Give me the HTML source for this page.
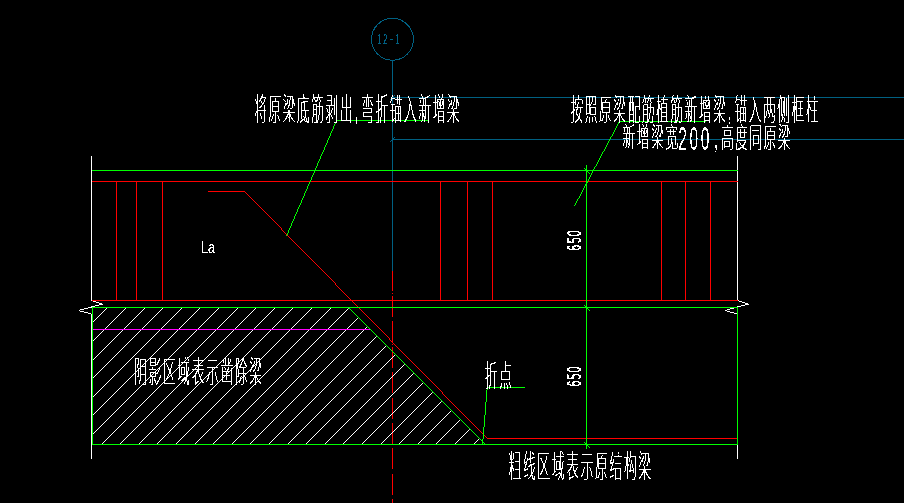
<!DOCTYPE html>
<html lang="zh-CN">
<head>
<meta charset="utf-8">
<title>梁加固节点详图</title>
<style>
html,body{margin:0;padding:0;background:#000;}
body{width:904px;height:503px;overflow:hidden;}
svg{display:block;}
text{font-family:"Liberation Sans","Noto Sans CJK SC",sans-serif;}
</style>
</head>
<body>
<svg width="904" height="503" viewBox="0 0 904 503">
<defs>
<filter id="crispA" x="0" y="0" width="904" height="503" filterUnits="userSpaceOnUse" color-interpolation-filters="sRGB"><feComponentTransfer><feFuncA type="discrete" tableValues="0 1 1 1"/></feComponentTransfer></filter>
<filter id="crispB" x="0" y="0" width="904" height="503" filterUnits="userSpaceOnUse" color-interpolation-filters="sRGB"><feComponentTransfer><feFuncA type="discrete" tableValues="0 0 1 1 1"/></feComponentTransfer></filter>
<filter id="crispC" x="0" y="0" width="904" height="503" filterUnits="userSpaceOnUse" color-interpolation-filters="sRGB"><feComponentTransfer><feFuncA type="discrete" tableValues="0 0 0 1 1"/></feComponentTransfer></filter>
</defs>
<rect width="904" height="503" fill="#000"/>
<g shape-rendering="crispEdges" stroke-width="1" fill="none">
<line x1="392.5" y1="271" x2="392.5" y2="291" stroke="#ff0000"/>
<line x1="392.5" y1="293" x2="392.5" y2="294" stroke="#ff0000"/>
<line x1="392.5" y1="296" x2="392.5" y2="317" stroke="#ff0000"/>
<line x1="392.5" y1="321" x2="392.5" y2="342" stroke="#ff0000"/>
<line x1="392.5" y1="344" x2="392.5" y2="345" stroke="#ff0000"/>
<line x1="392.5" y1="347" x2="392.5" y2="368" stroke="#ff0000"/>
<line x1="392.5" y1="372" x2="392.5" y2="393" stroke="#ff0000"/>
<line x1="392.5" y1="398" x2="392.5" y2="419" stroke="#ff0000"/>
<line x1="392.5" y1="423" x2="392.5" y2="444" stroke="#ff0000"/>
<line x1="392.5" y1="448" x2="392.5" y2="469" stroke="#ff0000"/>
<line x1="392.5" y1="474" x2="392.5" y2="495" stroke="#ff0000"/>
<line x1="392.5" y1="499" x2="392.5" y2="503" stroke="#ff0000"/>
<clipPath id="hc"><polygon points="93,308 348.2,308 484.2,444 93,444"/></clipPath>
<g clip-path="url(#hc)">
<polygon points="-53.50,450.00 -52.50,450.00 97.50,300.00 96.50,300.00" fill="#ffffff" stroke="none"/>
<polygon points="-35.50,450.00 -34.50,450.00 115.50,300.00 114.50,300.00" fill="#ffffff" stroke="none"/>
<polygon points="-16.50,450.00 -15.50,450.00 134.50,300.00 133.50,300.00" fill="#ffffff" stroke="none"/>
<polygon points="2.50,450.00 3.50,450.00 153.50,300.00 152.50,300.00" fill="#ffffff" stroke="none"/>
<polygon points="20.50,450.00 21.50,450.00 171.50,300.00 170.50,300.00" fill="#ffffff" stroke="none"/>
<polygon points="39.50,450.00 40.50,450.00 190.50,300.00 189.50,300.00" fill="#ffffff" stroke="none"/>
<polygon points="57.50,450.00 58.50,450.00 208.50,300.00 207.50,300.00" fill="#ffffff" stroke="none"/>
<polygon points="76.50,450.00 77.50,450.00 227.50,300.00 226.50,300.00" fill="#ffffff" stroke="none"/>
<polygon points="95.50,450.00 96.50,450.00 246.50,300.00 245.50,300.00" fill="#ffffff" stroke="none"/>
<polygon points="113.50,450.00 114.50,450.00 264.50,300.00 263.50,300.00" fill="#ffffff" stroke="none"/>
<polygon points="132.50,450.00 133.50,450.00 283.50,300.00 282.50,300.00" fill="#ffffff" stroke="none"/>
<polygon points="150.50,450.00 151.50,450.00 301.50,300.00 300.50,300.00" fill="#ffffff" stroke="none"/>
<polygon points="169.50,450.00 170.50,450.00 320.50,300.00 319.50,300.00" fill="#ffffff" stroke="none"/>
<polygon points="188.50,450.00 189.50,450.00 339.50,300.00 338.50,300.00" fill="#ffffff" stroke="none"/>
<polygon points="206.50,450.00 207.50,450.00 357.50,300.00 356.50,300.00" fill="#ffffff" stroke="none"/>
<polygon points="225.50,450.00 226.50,450.00 376.50,300.00 375.50,300.00" fill="#ffffff" stroke="none"/>
<polygon points="243.50,450.00 244.50,450.00 394.50,300.00 393.50,300.00" fill="#ffffff" stroke="none"/>
<polygon points="262.50,450.00 263.50,450.00 413.50,300.00 412.50,300.00" fill="#ffffff" stroke="none"/>
<polygon points="281.50,450.00 282.50,450.00 432.50,300.00 431.50,300.00" fill="#ffffff" stroke="none"/>
<polygon points="299.50,450.00 300.50,450.00 450.50,300.00 449.50,300.00" fill="#ffffff" stroke="none"/>
<polygon points="318.50,450.00 319.50,450.00 469.50,300.00 468.50,300.00" fill="#ffffff" stroke="none"/>
<polygon points="336.50,450.00 337.50,450.00 487.50,300.00 486.50,300.00" fill="#ffffff" stroke="none"/>
<polygon points="355.50,450.00 356.50,450.00 506.50,300.00 505.50,300.00" fill="#ffffff" stroke="none"/>
<polygon points="374.50,450.00 375.50,450.00 525.50,300.00 524.50,300.00" fill="#ffffff" stroke="none"/>
<polygon points="392.50,450.00 393.50,450.00 543.50,300.00 542.50,300.00" fill="#ffffff" stroke="none"/>
<polygon points="411.50,450.00 412.50,450.00 562.50,300.00 561.50,300.00" fill="#ffffff" stroke="none"/>
<polygon points="429.50,450.00 430.50,450.00 580.50,300.00 579.50,300.00" fill="#ffffff" stroke="none"/>
<polygon points="448.50,450.00 449.50,450.00 599.50,300.00 598.50,300.00" fill="#ffffff" stroke="none"/>
<polygon points="467.50,450.00 468.50,450.00 618.50,300.00 617.50,300.00" fill="#ffffff" stroke="none"/>
<polygon points="485.50,450.00 486.50,450.00 636.50,300.00 635.50,300.00" fill="#ffffff" stroke="none"/>
</g>
<circle cx="392.45" cy="39.3" r="20.95" stroke="#006082" fill="none"/>
<line x1="392.5" y1="60" x2="392.5" y2="271" stroke="#006082"/>
<line x1="392" y1="97.5" x2="904" y2="97.5" stroke="#006082"/>
<line x1="392" y1="139.5" x2="904" y2="139.5" stroke="#006082"/>
<polygon points="389.50,100.00 390.50,100.00 395.50,95.00 394.50,95.00" fill="#006082" stroke="none"/>
<polygon points="389.50,142.00 390.50,142.00 395.50,137.00 394.50,137.00" fill="#006082" stroke="none"/>
<line x1="91.5" y1="156" x2="91.5" y2="301" stroke="#ffffff"/>
<line x1="91.5" y1="314" x2="91.5" y2="459" stroke="#ffffff"/>
<line x1="737.5" y1="156" x2="737.5" y2="301" stroke="#ffffff"/>
<line x1="737.5" y1="314" x2="737.5" y2="459" stroke="#ffffff"/>
<polygon points="91.50,300.00 91.50,301.00 102.50,304.50 102.50,303.50" fill="#ffffff" stroke="none"/>
<polygon points="102.50,303.50 102.50,304.50 91.50,307.50 91.50,306.50" fill="#ffffff" stroke="none"/>
<polygon points="91.50,306.50 91.50,307.50 78.50,311.00 78.50,310.00" fill="#ffffff" stroke="none"/>
<polygon points="78.50,310.00 78.50,311.00 91.50,314.50 91.50,313.50" fill="#ffffff" stroke="none"/>
<polygon points="737.50,300.00 737.50,301.00 748.50,304.50 748.50,303.50" fill="#ffffff" stroke="none"/>
<polygon points="748.50,303.50 748.50,304.50 737.50,307.50 737.50,306.50" fill="#ffffff" stroke="none"/>
<polygon points="737.50,306.50 737.50,307.50 725.00,311.00 725.00,310.00" fill="#ffffff" stroke="none"/>
<polygon points="725.00,310.00 725.00,311.00 737.50,314.50 737.50,313.50" fill="#ffffff" stroke="none"/>
<line x1="92" y1="181.5" x2="738" y2="181.5" stroke="#ff0000"/>
<line x1="92" y1="300.5" x2="738" y2="300.5" stroke="#ff0000"/>
<line x1="116.5" y1="181" x2="116.5" y2="301" stroke="#ff0000"/>
<line x1="136.5" y1="181" x2="136.5" y2="301" stroke="#ff0000"/>
<line x1="162.5" y1="181" x2="162.5" y2="301" stroke="#ff0000"/>
<line x1="440.5" y1="181" x2="440.5" y2="301" stroke="#ff0000"/>
<line x1="467.5" y1="181" x2="467.5" y2="301" stroke="#ff0000"/>
<line x1="492.5" y1="181" x2="492.5" y2="301" stroke="#ff0000"/>
<line x1="661.5" y1="181" x2="661.5" y2="301" stroke="#ff0000"/>
<line x1="685.5" y1="181" x2="685.5" y2="301" stroke="#ff0000"/>
<line x1="710.5" y1="181" x2="710.5" y2="301" stroke="#ff0000"/>
<polygon points="208.00,191.00 208.00,192.00 244.70,192.00 244.70,191.00" fill="#ff0000" stroke="none"/>
<polygon points="244.20,191.50 245.20,191.50 487.70,438.50 486.70,438.50" fill="#ff0000" stroke="none"/>
<polygon points="487.20,438.00 487.20,439.00 738.00,439.00 738.00,438.00" fill="#ff0000" stroke="none"/>
<line x1="92" y1="329.5" x2="371" y2="329.5" stroke="#ff00ff"/>
<line x1="92" y1="170.5" x2="738" y2="170.5" stroke="#00ff00"/>
<line x1="92" y1="307.5" x2="738" y2="307.5" stroke="#00ff00"/>
<line x1="92" y1="444.5" x2="738" y2="444.5" stroke="#00ff00"/>
<line x1="92.5" y1="307" x2="92.5" y2="445" stroke="#00ff00"/>
<line x1="737.5" y1="307" x2="737.5" y2="445" stroke="#00ff00"/>
<polygon points="348.20,307.50 349.20,307.50 486.20,444.50 485.20,444.50" fill="#00ff00" stroke="none"/>
<line x1="586.5" y1="165" x2="586.5" y2="449" stroke="#00ff00"/>
<polygon points="583.50,168.00 584.50,168.00 590.50,174.00 589.50,174.00" fill="#00ff00" stroke="none"/>
<polygon points="583.50,305.00 584.50,305.00 590.50,311.00 589.50,311.00" fill="#00ff00" stroke="none"/>
<polygon points="583.50,442.00 584.50,442.00 590.50,448.00 589.50,448.00" fill="#00ff00" stroke="none"/>
<polygon points="286.00,236.00 287.00,236.00 337.10,120.50 336.10,120.50" fill="#00ff00" stroke="none"/>
<polygon points="336.60,120.00 336.60,121.00 428.50,121.00 428.50,120.00" fill="#00ff00" stroke="none"/>
<polygon points="574.00,206.00 575.00,206.00 620.00,121.50 619.00,121.50" fill="#00ff00" stroke="none"/>
<polygon points="619.50,121.00 619.50,122.00 706.00,122.00 706.00,121.00" fill="#00ff00" stroke="none"/>
<polygon points="482.20,443.50 483.20,443.50 487.70,387.50 486.70,387.50" fill="#00ff00" stroke="none"/>
<polygon points="487.20,387.00 487.20,388.00 525.00,388.00 525.00,387.00" fill="#00ff00" stroke="none"/>
</g>
<g id="labels">
<g filter="url(#crispA)">
<text transform="translate(254.13,120.12) scale(0.4498,1.0789)" font-size="28" font-weight="100" fill="#fff" letter-spacing="3.8">将原梁底筋剥出<tspan dx="1" fill-opacity="0.5">,</tspan><tspan dx="3">弯</tspan>折锚入新增梁</text>
<text transform="translate(570.55,120.04) scale(0.4491,1.0459)" font-size="28" font-weight="100" fill="#fff" letter-spacing="3.8">按照原梁配筋植筋新增梁<tspan dx="1" fill-opacity="0.5">,</tspan><tspan dx="3">锚</tspan>入两侧框柱</text>
<text transform="translate(622.52,146.92) scale(0.4515,0.9905)" font-size="28" font-weight="100" fill="#fff" letter-spacing="3.8">新增梁宽</text>
<text transform="translate(714.36,148.28) scale(0.4495,1.0333)" font-size="28" font-weight="100" fill="#fff" letter-spacing="3.8"><tspan fill-opacity="0.5">,</tspan><tspan dx="3">高</tspan>度同原梁</text>
<text transform="translate(134.27,382.49) scale(0.4517,1.0549)" font-size="28" font-weight="100" fill="#fff" letter-spacing="3.8">阴影区域表示凿除梁</text>
<text transform="translate(484.72,386.49) scale(0.4566,1.0549)" font-size="28" font-weight="100" fill="#fff" letter-spacing="3.8">折点</text>
<text transform="translate(508.52,477.20) scale(0.4537,1.0980)" font-size="28" font-weight="100" fill="#fff" letter-spacing="3.8">粗线区域表示原结构梁</text>
</g>
<g filter="url(#crispB)">
<text transform="translate(200.86,252.75) scale(0.7493,1.0083)" font-size="17" font-weight="400" fill="#fff">La</text>
<text transform="translate(580.74,250.44) rotate(-90) scale(0.5429,1.0444)" font-size="19" font-weight="400" fill="#fff"><tspan letter-spacing="2.5">65</tspan>0</text>
<text transform="translate(580.74,386.44) rotate(-90) scale(0.5371,1.0444)" font-size="19" font-weight="400" fill="#fff"><tspan letter-spacing="2.5">65</tspan>0</text>
<text transform="translate(377.38,44.00) scale(0.5227,1.0256)" font-size="14" font-weight="400" fill="#006082"><tspan letter-spacing="3.5">12</tspan><tspan dx="1.5" textLength="6" lengthAdjust="spacingAndGlyphs">-</tspan><tspan dx="4.5">1</tspan></text>
</g>
<g filter="url(#crispC)">
<text transform="translate(678.24,149.64) scale(0.5034,1.0500)" font-size="31" font-weight="400" fill="#fff" letter-spacing="5">200</text>
</g>
</g>
</svg>
</body>
</html>
